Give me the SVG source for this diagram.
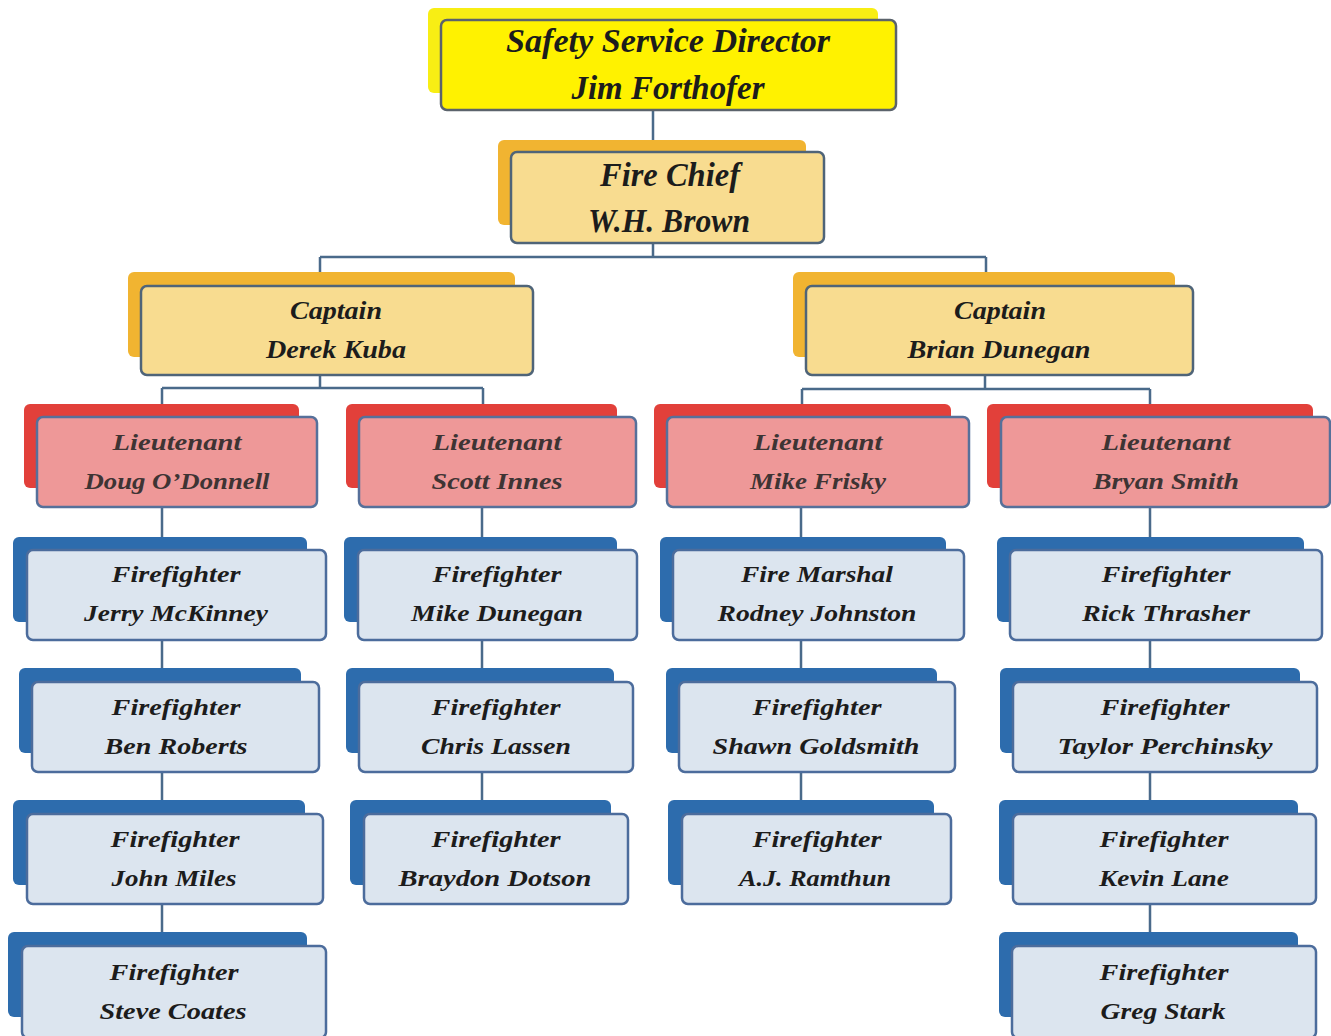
<svg xmlns="http://www.w3.org/2000/svg" width="1331" height="1036" viewBox="0 0 1331 1036">
<style>
.t{font-family:"Liberation Serif","DejaVu Serif",serif;font-weight:bold;font-style:italic;text-anchor:middle;fill:#1c1c1c}
.big{font-size:33px}
.mid{font-size:26px}
.sm{font-size:24px}
.lt{fill:#3e3434}
.yb{fill:#F8EE14}
.yf{fill:#FFF200;stroke:#5b636c;stroke-width:2.5}
.ob{fill:#F1B431}
.of{fill:#F8DC90;stroke:#4f6478;stroke-width:2.5}
.rb{fill:#E2403A}
.rf{fill:#EE9898;stroke:#56709a;stroke-width:2.5}
.bb{fill:#2D6CAD}
.bf{fill:#DCE5EF;stroke:#4c6c9c;stroke-width:2.5}
.c{stroke:#4a6a8a;stroke-width:2.5;fill:none}
</style>
<rect width="1331" height="1036" fill="#ffffff"/>
<g id="connectors">
<path class="c" d="M653 110V152M653 243V257M320 257H986M320 257V286M986 257V286"/>
<path class="c" d="M320 375V388M162 388H483M162 388V417M483 388V417"/>
<path class="c" d="M985 375V389M802 389H1150M802 389V417M1150 389V417"/>
<path class="c" d="M162 507V550M162 640V682M162 772V814M162 904V946"/>
<path class="c" d="M482 507V550M482 640V682M482 772V814"/>
<path class="c" d="M801 507V550M801 640V682M801 772V814"/>
<path class="c" d="M1150 507V550M1150 640V682M1150 772V814M1150 904V946"/>
</g>
<g id="director">
<rect class="yb" x="428" y="8" width="450" height="85" rx="6"/>
<rect class="yf" x="441" y="20" width="455" height="90" rx="6"/>
<text class="t big" x="668" y="52" textLength="324" lengthAdjust="spacingAndGlyphs">Safety Service Director</text>
<text class="t big" x="668" y="99" textLength="193" lengthAdjust="spacingAndGlyphs">Jim Forthofer</text>
</g>
<g id="chief">
<rect class="ob" x="498" y="140" width="308" height="85" rx="6"/>
<rect class="of" x="511" y="152" width="313" height="91" rx="6"/>
<text class="t big" x="670" y="186" textLength="140" lengthAdjust="spacingAndGlyphs">Fire Chief</text>
<text class="t big" x="669" y="232" textLength="162" lengthAdjust="spacingAndGlyphs">W.H. Brown</text>
</g>
<g id="captain-kuba">
<rect class="ob" x="128" y="272" width="387" height="85" rx="6"/>
<rect class="of" x="141" y="286" width="392" height="89" rx="6"/>
<text class="t mid" x="336" y="319" textLength="92" lengthAdjust="spacingAndGlyphs">Captain</text>
<text class="t mid" x="336" y="358" textLength="140" lengthAdjust="spacingAndGlyphs">Derek Kuba</text>
</g>
<g id="captain-dunegan">
<rect class="ob" x="793" y="272" width="382" height="85" rx="6"/>
<rect class="of" x="806" y="286" width="387" height="89" rx="6"/>
<text class="t mid" x="1000" y="319" textLength="92" lengthAdjust="spacingAndGlyphs">Captain</text>
<text class="t mid" x="999" y="358" textLength="183" lengthAdjust="spacingAndGlyphs">Brian Dunegan</text>
</g>
<g id="lt-odonnell">
<rect class="rb" x="24" y="404" width="275" height="84" rx="6"/>
<rect class="rf" x="37" y="417" width="280" height="90" rx="6"/>
<text class="t sm lt" x="177" y="450" textLength="129" lengthAdjust="spacingAndGlyphs">Lieutenant</text>
<text class="t sm lt" x="177" y="489" textLength="185" lengthAdjust="spacingAndGlyphs">Doug O’Donnell</text>
</g>
<g id="lt-innes">
<rect class="rb" x="346" y="404" width="271" height="84" rx="6"/>
<rect class="rf" x="359" y="417" width="277" height="90" rx="6"/>
<text class="t sm lt" x="497" y="450" textLength="129" lengthAdjust="spacingAndGlyphs">Lieutenant</text>
<text class="t sm lt" x="497" y="489" textLength="131" lengthAdjust="spacingAndGlyphs">Scott Innes</text>
</g>
<g id="lt-frisky">
<rect class="rb" x="654" y="404" width="297" height="84" rx="6"/>
<rect class="rf" x="667" y="417" width="302" height="90" rx="6"/>
<text class="t sm lt" x="818" y="450" textLength="129" lengthAdjust="spacingAndGlyphs">Lieutenant</text>
<text class="t sm lt" x="818" y="489" textLength="136" lengthAdjust="spacingAndGlyphs">Mike Frisky</text>
</g>
<g id="lt-smith">
<rect class="rb" x="987" y="404" width="326" height="84" rx="6"/>
<rect class="rf" x="1001" y="417" width="329" height="90" rx="6"/>
<text class="t sm lt" x="1166" y="450" textLength="129" lengthAdjust="spacingAndGlyphs">Lieutenant</text>
<text class="t sm lt" x="1166" y="489" textLength="146" lengthAdjust="spacingAndGlyphs">Bryan Smith</text>
</g>
<g id="ff-mckinney">
<rect class="bb" x="13" y="537" width="294" height="85" rx="6"/>
<rect class="bf" x="27" y="550" width="299" height="90" rx="6"/>
<text class="t sm" x="176" y="582" textLength="129" lengthAdjust="spacingAndGlyphs">Firefighter</text>
<text class="t sm" x="176" y="621" textLength="184" lengthAdjust="spacingAndGlyphs">Jerry McKinney</text>
</g>
<g id="ff-roberts">
<rect class="bb" x="19" y="668" width="282" height="85" rx="6"/>
<rect class="bf" x="32" y="682" width="287" height="90" rx="6"/>
<text class="t sm" x="176" y="715" textLength="129" lengthAdjust="spacingAndGlyphs">Firefighter</text>
<text class="t sm" x="176" y="754" textLength="143" lengthAdjust="spacingAndGlyphs">Ben Roberts</text>
</g>
<g id="ff-miles">
<rect class="bb" x="13" y="800" width="292" height="85" rx="6"/>
<rect class="bf" x="27" y="814" width="296" height="90" rx="6"/>
<text class="t sm" x="175" y="847" textLength="129" lengthAdjust="spacingAndGlyphs">Firefighter</text>
<text class="t sm" x="174" y="886" textLength="125" lengthAdjust="spacingAndGlyphs">John Miles</text>
</g>
<g id="ff-coates">
<rect class="bb" x="8" y="932" width="299" height="85" rx="6"/>
<rect class="bf" x="22" y="946" width="304" height="92" rx="6"/>
<text class="t sm" x="174" y="980" textLength="129" lengthAdjust="spacingAndGlyphs">Firefighter</text>
<text class="t sm" x="173" y="1019" textLength="147" lengthAdjust="spacingAndGlyphs">Steve Coates</text>
</g>
<g id="ff-dunegan">
<rect class="bb" x="344" y="537" width="273" height="85" rx="6"/>
<rect class="bf" x="358" y="550" width="279" height="90" rx="6"/>
<text class="t sm" x="497" y="582" textLength="129" lengthAdjust="spacingAndGlyphs">Firefighter</text>
<text class="t sm" x="497" y="621" textLength="172" lengthAdjust="spacingAndGlyphs">Mike Dunegan</text>
</g>
<g id="ff-lassen">
<rect class="bb" x="346" y="668" width="268" height="85" rx="6"/>
<rect class="bf" x="359" y="682" width="274" height="90" rx="6"/>
<text class="t sm" x="496" y="715" textLength="129" lengthAdjust="spacingAndGlyphs">Firefighter</text>
<text class="t sm" x="496" y="754" textLength="150" lengthAdjust="spacingAndGlyphs">Chris Lassen</text>
</g>
<g id="ff-dotson">
<rect class="bb" x="350" y="800" width="261" height="85" rx="6"/>
<rect class="bf" x="364" y="814" width="264" height="90" rx="6"/>
<text class="t sm" x="496" y="847" textLength="129" lengthAdjust="spacingAndGlyphs">Firefighter</text>
<text class="t sm" x="495" y="886" textLength="193" lengthAdjust="spacingAndGlyphs">Braydon Dotson</text>
</g>
<g id="fm-johnston">
<rect class="bb" x="660" y="537" width="286" height="85" rx="6"/>
<rect class="bf" x="673" y="550" width="291" height="90" rx="6"/>
<text class="t sm" x="817" y="582" textLength="152" lengthAdjust="spacingAndGlyphs">Fire Marshal</text>
<text class="t sm" x="817" y="621" textLength="199" lengthAdjust="spacingAndGlyphs">Rodney Johnston</text>
</g>
<g id="ff-goldsmith">
<rect class="bb" x="666" y="668" width="271" height="85" rx="6"/>
<rect class="bf" x="679" y="682" width="276" height="90" rx="6"/>
<text class="t sm" x="817" y="715" textLength="129" lengthAdjust="spacingAndGlyphs">Firefighter</text>
<text class="t sm" x="816" y="754" textLength="207" lengthAdjust="spacingAndGlyphs">Shawn Goldsmith</text>
</g>
<g id="ff-ramthun">
<rect class="bb" x="668" y="800" width="266" height="85" rx="6"/>
<rect class="bf" x="682" y="814" width="269" height="90" rx="6"/>
<text class="t sm" x="817" y="847" textLength="129" lengthAdjust="spacingAndGlyphs">Firefighter</text>
<text class="t sm" x="815" y="886" textLength="152" lengthAdjust="spacingAndGlyphs">A.J. Ramthun</text>
</g>
<g id="ff-thrasher">
<rect class="bb" x="997" y="537" width="307" height="85" rx="6"/>
<rect class="bf" x="1010" y="550" width="312" height="90" rx="6"/>
<text class="t sm" x="1166" y="582" textLength="129" lengthAdjust="spacingAndGlyphs">Firefighter</text>
<text class="t sm" x="1166" y="621" textLength="168" lengthAdjust="spacingAndGlyphs">Rick Thrasher</text>
</g>
<g id="ff-perchinsky">
<rect class="bb" x="1000" y="668" width="300" height="85" rx="6"/>
<rect class="bf" x="1013" y="682" width="304" height="90" rx="6"/>
<text class="t sm" x="1165" y="715" textLength="129" lengthAdjust="spacingAndGlyphs">Firefighter</text>
<text class="t sm" x="1165" y="754" textLength="215" lengthAdjust="spacingAndGlyphs">Taylor Perchinsky</text>
</g>
<g id="ff-lane">
<rect class="bb" x="999" y="800" width="299" height="85" rx="6"/>
<rect class="bf" x="1013" y="814" width="303" height="90" rx="6"/>
<text class="t sm" x="1164" y="847" textLength="129" lengthAdjust="spacingAndGlyphs">Firefighter</text>
<text class="t sm" x="1164" y="886" textLength="130" lengthAdjust="spacingAndGlyphs">Kevin Lane</text>
</g>
<g id="ff-stark">
<rect class="bb" x="999" y="932" width="299" height="85" rx="6"/>
<rect class="bf" x="1012" y="946" width="304" height="92" rx="6"/>
<text class="t sm" x="1164" y="980" textLength="129" lengthAdjust="spacingAndGlyphs">Firefighter</text>
<text class="t sm" x="1163" y="1019" textLength="125" lengthAdjust="spacingAndGlyphs">Greg Stark</text>
</g>
</svg>
